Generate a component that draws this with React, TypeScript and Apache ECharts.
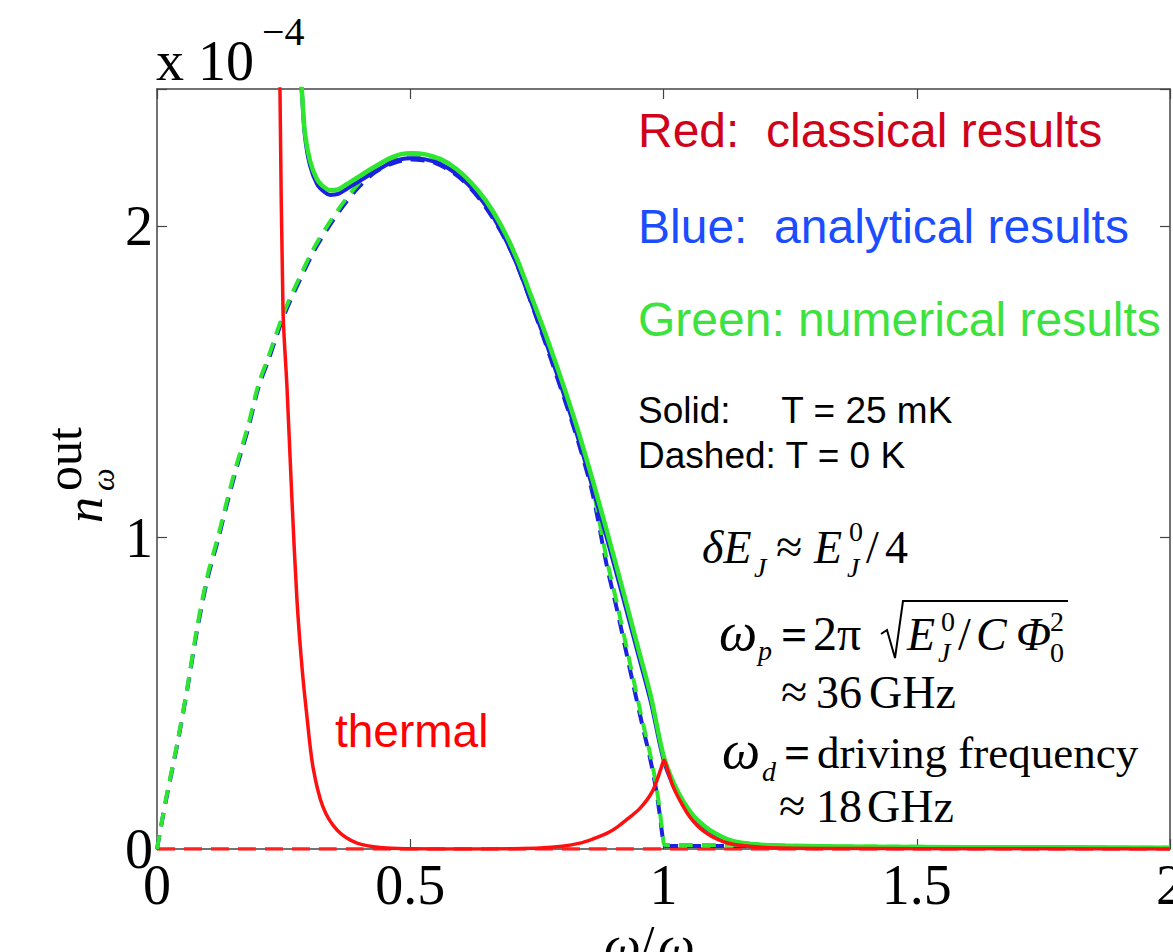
import React, { useEffect, useRef } from "react";
import * as echarts from "echarts";

// ---- data (values in units of 1e-4) ----
const xTicks = [0, 0.5, 1, 1.5, 2];
const yTicks = [0, 1, 2];

// solid curves, T = 25 mK
const solidX = [0.276, 0.286, 0.292, 0.302, 0.316, 0.330, 0.342, 0.358, 0.375, 0.395, 0.415, 0.440, 0.460, 0.480, 0.503, 0.530, 0.560, 0.590, 0.620, 0.650, 0.680, 0.710, 0.740, 0.770, 0.800, 0.830, 0.860, 0.890, 0.920, 0.950, 0.975, 1.000, 1.020, 1.040, 1.060, 1.080, 1.100, 1.125, 1.150, 1.200, 1.300, 1.400, 1.600, 1.800, 2.000];
const greenSolid = [2.66, 2.436, 2.30, 2.21, 2.15, 2.125, 2.115, 2.118, 2.135, 2.155, 2.176, 2.200, 2.218, 2.230, 2.234, 2.230, 2.215, 2.185, 2.140, 2.080, 2.000, 1.897, 1.770, 1.640, 1.500, 1.350, 1.185, 1.010, 0.830, 0.645, 0.490, 0.300, 0.212, 0.150, 0.105, 0.075, 0.052, 0.032, 0.021, 0.013, 0.009, 0.007, 0.006, 0.005, 0.004];
const blueSolid = [2.66, 2.43, 2.29, 2.195, 2.135, 2.11, 2.10, 2.103, 2.12, 2.14, 2.16, 2.184, 2.202, 2.214, 2.218, 2.214, 2.199, 2.169, 2.124, 2.064, 1.983, 1.879, 1.750, 1.617, 1.476, 1.326, 1.161, 0.987, 0.808, 0.625, 0.472, 0.287, 0.202, 0.143, 0.100, 0.071, 0.049, 0.030, 0.020, 0.012, 0.008, 0.006, 0.005, 0.004, 0.003];

// dashed curves, T = 0 K
const dashedX = [0, 0.01, 0.02, 0.04, 0.06, 0.08, 0.10, 0.12, 0.14, 0.16, 0.18, 0.20, 0.22, 0.25, 0.28, 0.31, 0.34, 0.37, 0.40, 0.43, 0.46, 0.50, 0.55, 0.60, 0.65, 0.70, 0.75, 0.80, 0.83, 0.86, 0.888, 0.908, 0.94, 0.96, 0.973, 0.985, 0.993, 0.999, 1.003, 1.05, 1.10, 1.15, 1.20, 1.30, 1.50, 1.75, 2.00];
const greenDashed = [0, 0.093, 0.18, 0.34, 0.52, 0.72, 0.88, 1.00, 1.13, 1.25, 1.36, 1.49, 1.58, 1.72, 1.83, 1.93, 2.01, 2.08, 2.14, 2.185, 2.212, 2.230, 2.218, 2.168, 2.075, 1.935, 1.720, 1.485, 1.335, 1.160, 0.93, 0.79, 0.55, 0.40, 0.31, 0.21, 0.12, 0.04, 0.013, 0.013, 0.013, 0.014, 0.012, 0.009, 0.007, 0.005, 0.004];
const blueDashed = [0, 0.09, 0.175, 0.335, 0.515, 0.71, 0.87, 0.99, 1.12, 1.24, 1.35, 1.48, 1.57, 1.71, 1.82, 1.92, 2.0, 2.07, 2.128, 2.172, 2.198, 2.214, 2.202, 2.152, 2.058, 1.917, 1.702, 1.466, 1.316, 1.141, 0.91, 0.77, 0.53, 0.385, 0.295, 0.195, 0.105, 0.03, 0.01, 0.01, 0.01, 0.01, 0.009, 0.007, 0.005, 0.004, 0.003];

// classical (red)
const redX = [0.2406, 0.2428, 0.2488, 0.2567, 0.2665, 0.2764, 0.2863, 0.2962, 0.308, 0.3277, 0.3554, 0.3949, 0.446, 0.50, 0.60, 0.70, 0.756, 0.80, 0.835, 0.86, 0.888, 0.91, 0.934, 0.952, 0.967, 0.978, 0.987, 0.995, 1.001, 1.008, 1.019, 1.035, 1.052, 1.07, 1.086, 1.105, 1.125, 1.15, 1.2, 1.3, 1.5, 2.0];
const redSolid = [2.75, 2.436, 1.728, 1.48, 1.119, 0.798, 0.583, 0.423, 0.263, 0.135, 0.061, 0.019, 0.004, 0.001, 0, 0.001, 0.003, 0.009, 0.019, 0.032, 0.05, 0.072, 0.103, 0.128, 0.157, 0.185, 0.22, 0.258, 0.285, 0.255, 0.2, 0.148, 0.103, 0.07, 0.05, 0.032, 0.02, 0.012, 0.005, 0.002, 0.001, 0];
const redDashedX = [0, 2];
const redDashed = [0, 0];

const SERIF = '"Liberation Serif", "Times New Roman", serif';
const SANS = '"Liberation Sans", Arial, sans-serif';

const pair = (xs: number[], ys: number[]) => xs.map((x, i) => [x, ys[i]]);

function txt(x: number, base: number, text: string, size: number, o: any = {}) {
  const family = o.family || SERIF;
  return {
    type: "text",
    x,
    y: base - 0.342 * size,
    silent: true,
    z: 100,
    style: {
      text,
      fill: o.color || "#000",
      fontSize: size,
      fontFamily: family,
      fontStyle: o.italic ? "italic" : "normal",
      fontWeight: o.bold ? "bold" : "normal",
      align: "left",
      verticalAlign: "middle",
    },
  };
}

export default function App() {
  const ref = useRef<HTMLDivElement>(null);
  useEffect(() => {
    if (!ref.current) return;
    const chart = echarts.init(ref.current, null, { renderer: "svg" });
    const axisLine = { show: true, onZero: false, lineStyle: { color: "#444", width: 1.5 } };
    const axisTick = { show: true, inside: true, length: 10, lineStyle: { color: "#444", width: 1.2 } };
    const lbl = { fontFamily: SERIF, fontSize: 56, color: "#000" };
    const isTick = (arr: number[], v: number) => arr.some((t) => Math.abs(t - v) < 1e-9);
    const line = (name: string, data: any, color: string, width: number, dash?: any) => ({
      name,
      type: "line",
      data,
      symbol: "none",
      showSymbol: false,
      smooth: 0.3,
      clip: true,
      silent: true,
      lineStyle: { color, width, type: dash || "solid", cap: "butt", join: "round" },
    });
    const option: any = {
      animation: false,
      backgroundColor: "#ffffff",
      grid: { left: 157, top: 89, width: 1013, height: 760, containLabel: false, outerBoundsMode: "none" },
      xAxis: [
        {
          type: "value", min: 0, max: 2, interval: 0.5, position: "bottom",
          axisLine, axisTick, splitLine: { show: false },
          axisLabel: { ...lbl, margin: 8, formatter: (v: number) => (isTick(xTicks, v) ? String(v) : "") },
        },
        {
          type: "value", min: 0, max: 2, interval: 0.5, position: "top",
          axisLine, axisTick, splitLine: { show: false }, axisLabel: { show: false },
        },
      ],
      yAxis: [
        {
          type: "value", min: 0, max: 2.44, interval: 1, position: "left",
          axisLine, axisTick, splitLine: { show: false },
          axisLabel: { ...lbl, margin: 4, formatter: (v: number) => (isTick(yTicks, v) ? String(Math.round(v)) : "") },
        },
        {
          type: "value", min: 0, max: 2.44, interval: 1, position: "right",
          axisLine, axisTick, splitLine: { show: false }, axisLabel: { show: false },
        },
      ],
      series: [
        line("Red dashed", pair(redDashedX, redDashed), "#ff2020", 3.5, [18, 9]),
        line("Blue dashed", pair(dashedX, blueDashed), "#1a22e0", 4, [14, 9]),
        line("Green dashed", pair(dashedX, greenDashed), "#2ee62e", 4, [14, 9]),
        line("Blue solid", pair(solidX, blueSolid), "#1a22e0", 4),
        line("Green solid", pair(solidX, greenSolid), "#2ee62e", 4.5),
        line("Red solid", pair(redX, redSolid), "#ff1010", 3.5),
      ],
      graphic: [
        // exponent
        txt(156, 80, "x 10", 56),
        txt(262, 45, "\u22124", 40),
        // legend texts
        txt(638, 147, "Red:  classical results", 48, { family: SANS, color: "#d0021b" }),
        txt(638, 243, "Blue:  analytical results", 48, { family: SANS, color: "#1b4dff" }),
        txt(638, 336, "Green: numerical results", 48, { family: SANS, color: "#3ee23e" }),
        txt(638, 423, "Solid:     T = 25 mK", 37, { family: SANS }),
        txt(638, 468, "Dashed: T = 0 K", 37, { family: SANS }),
        txt(335, 747, "thermal", 46, { family: SANS, color: "#ff0000" }),
        // δE_J ≈ E_J^0 / 4
        txt(702, 563, "\u03b4E", 46, { italic: true }),
        txt(754, 577, "J", 28, { italic: true }),
        txt(776, 563, "\u2248", 48),
        txt(814, 563, "E", 46, { italic: true }),
        txt(849, 541, "0", 28),
        txt(847, 577, "J", 28, { italic: true }),
        txt(866, 563, "/", 46),
        txt(885, 563, "4", 46),
        // ω_p = 2π √(E_J^0 / C Φ_0^2)
        txt(719, 650, "\u03c9", 54, { italic: true }),
        txt(758, 660, "p", 28, { italic: true }),
        txt(781, 650, "=", 46, { bold: true }),
        txt(813, 650, "2\u03c0", 48),
        {
          type: "polyline", silent: true, z: 100,
          shape: { points: [[881, 634], [887, 630], [895, 658], [903, 601], [1068, 601]] },
          style: { stroke: "#000", lineWidth: 2, fill: null },
        },
        txt(907, 650, "E", 46, { italic: true }),
        txt(941, 631, "0", 28),
        txt(938, 662, "J", 28, { italic: true }),
        txt(958, 650, "/", 46),
        txt(976, 650, "C", 46, { italic: true }),
        txt(1016, 650, "\u03a6", 46, { italic: true }),
        txt(1050, 631, "2", 28),
        txt(1050, 662, "0", 28),
        // ≈ 36 GHz
        txt(781, 708, "\u2248", 48),
        txt(816, 708, "36", 46),
        txt(869, 708, "GHz", 46),
        // ω_d = driving frequency
        txt(722, 768, "\u03c9", 54, { italic: true }),
        txt(762, 781, "d", 28, { italic: true }),
        txt(784, 768, "=", 46, { bold: true }),
        txt(817, 768, "driving frequency", 45),
        // ≈ 18 GHz
        txt(779, 822, "\u2248", 48),
        txt(816, 822, "18", 46),
        txt(867, 822, "GHz", 46),
        // x-axis title (partly cut off by page bottom)
        txt(604, 962, "\u03c9", 52, { italic: true }),
        txt(640, 962, "/", 52),
        txt(658, 962, "\u03c9", 52, { italic: true }),
        txt(698, 975, "d", 32, { italic: true }),
        // y-axis title (rotated)
        {
          type: "group", x: 102, y: 523, rotation: Math.PI / 2, silent: true,
          children: [
            txt(0, 0, "n", 52, { italic: true }),
            txt(32, -21, "out", 50),
            txt(32, 12, "\u03c9", 32, { italic: true }),
          ],
        },
      ],
    };
    chart.setOption(option);
    return () => chart.dispose();
  }, []);
  return (
    <div
      ref={ref}
      style={{ position: "absolute", left: 0, top: 0, width: 1173, height: 952, background: "#fff" }}
    />
  );
}
